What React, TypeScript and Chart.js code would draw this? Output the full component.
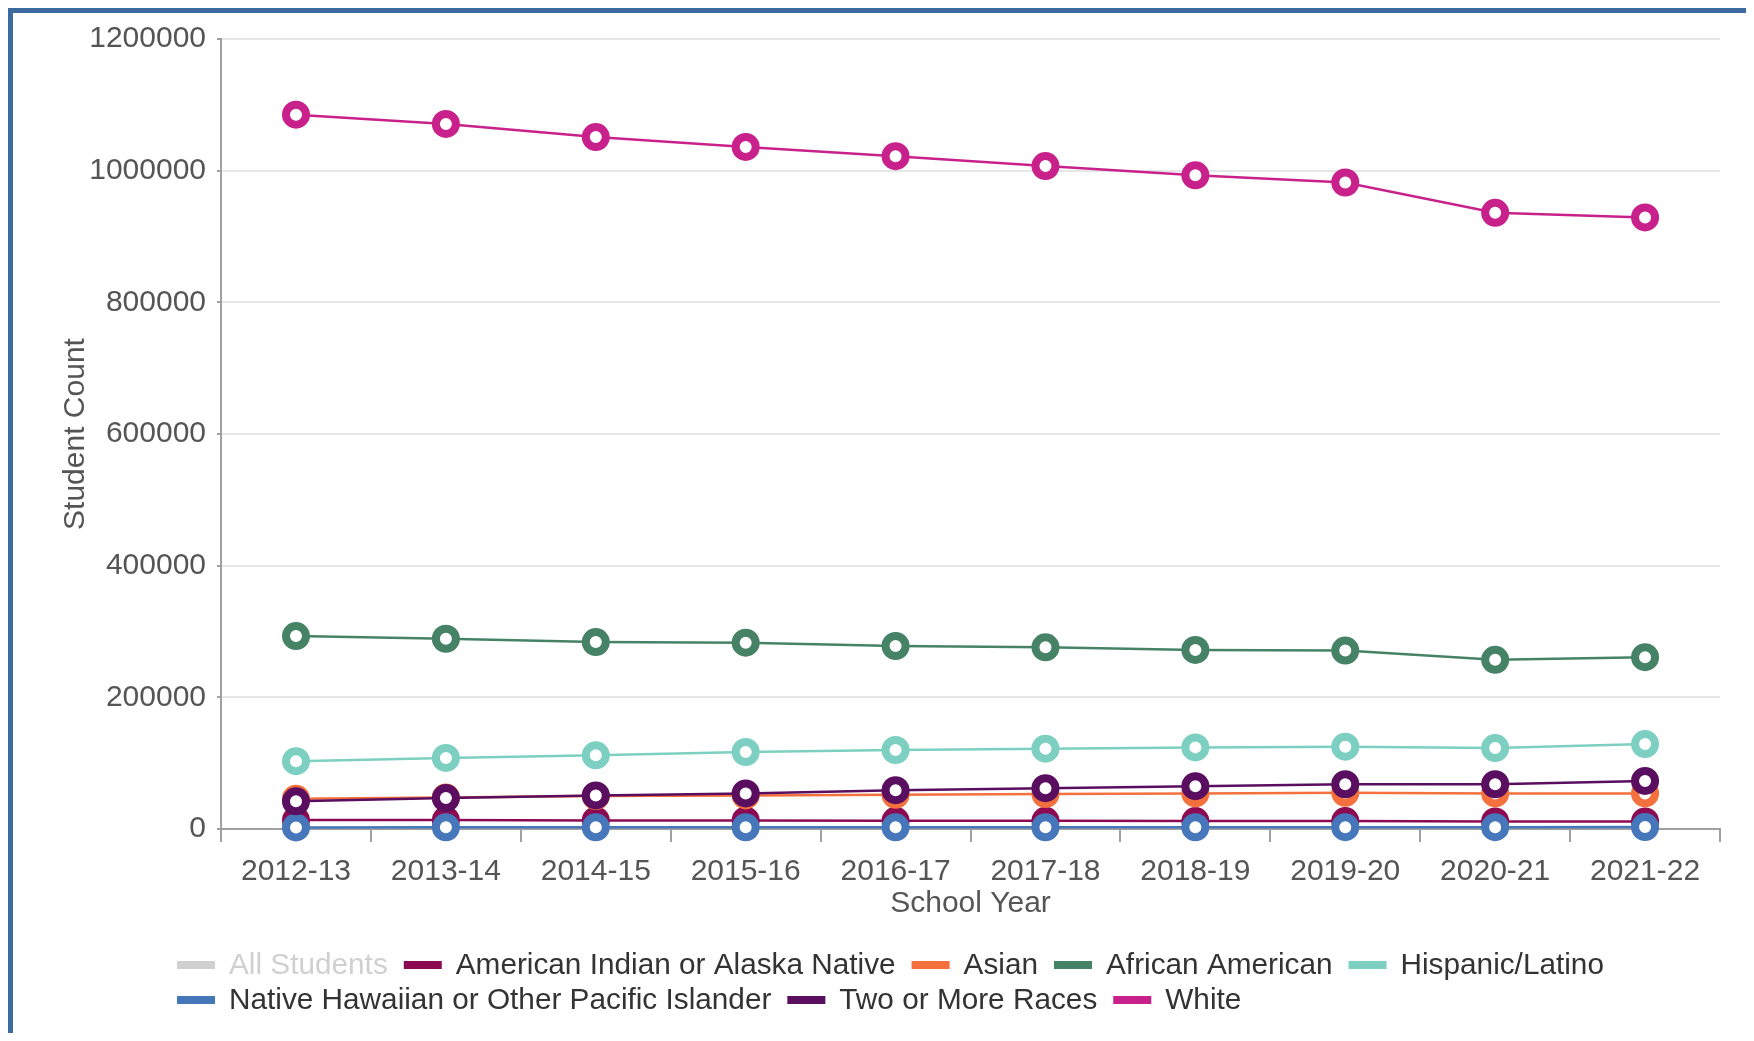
import React, { useEffect, useRef } from "react";
import { Chart, registerables } from "chart.js";

Chart.register(...registerables);

const schoolYears = ["2012-13", "2013-14", "2014-15", "2015-16", "2016-17", "2017-18", "2018-19", "2019-20", "2020-21", "2021-22"];

const allStudents = [1585000, 1582000, 1575000, 1568000, 1560000, 1552000, 1545000, 1540000, 1488000, 1489000];
const americanIndian = [13500, 13500, 13000, 13000, 12500, 12500, 12000, 12000, 11500, 11500];
const asian = [46000, 48000, 50000, 51000, 52000, 53000, 54000, 55000, 54000, 54000];
const africanAmerican = [293000, 289000, 284000, 283000, 278000, 276000, 272000, 271000, 257000, 261000];
const hispanicLatino = [103000, 108000, 112000, 117000, 120000, 122000, 124000, 125000, 123000, 129000];
const nativeHawaiian = [2400, 2500, 2500, 2600, 2600, 2700, 2700, 2800, 2800, 2900];
const twoOrMore = [42000, 47000, 51000, 54000, 59000, 62000, 65000, 68000, 68000, 73000];
const white = [1085000, 1071000, 1051000, 1036000, 1022000, 1007000, 993000, 982000, 936000, 929000];

const seriesLabels = [
  "All Students",
  "American Indian or Alaska Native",
  "Asian",
  "African American",
  "Hispanic/Latino",
  "Native Hawaiian or Other Pacific Islander",
  "Two or More Races",
  "White",
];
const seriesColors = ["#cccccc", "#8c0a52", "#f4703c", "#468366", "#7dd0c1", "#4677bb", "#5a0e60", "#c9218b"];
const seriesData = [allStudents, americanIndian, asian, africanAmerican, hispanicLatino, nativeHawaiian, twoOrMore, white];
const seriesHidden = [true, false, false, false, false, false, false, false];

const yMin = 0;
const yMax = 1200000;
const yStep = 200000;

const FAMILY = "'Liberation Sans', Arial, sans-serif";
const FONT_SIZE = 30;
const LEGEND_FONT_SIZE = 29.75;

export default function App() {
  const ref = useRef<HTMLCanvasElement | null>(null);

  useEffect(() => {
    const canvas = ref.current;
    if (!canvas) return;

    const datasets = seriesLabels.map((label, i) => ({
      label,
      data: seriesData[i],
      borderColor: seriesColors[i],
      backgroundColor: seriesColors[i],
      pointBackgroundColor: "#ffffff",
      pointBorderColor: seriesColors[i],
      pointRadius: 10,
      pointHoverRadius: 10,
      pointBorderWidth: 8,
      pointHoverBorderWidth: 8,
      borderWidth: 2.5,
      tension: 0,
      fill: false,
      clip: false,
      hidden: seriesHidden[i],
      order: seriesLabels.length - i,
    }));

    // Legend drawn below the x-axis, items left-aligned in wrapped rows
    const bottomLegend = {
      id: "bottomLegend",
      afterDraw(chart: any) {
        const ctx = chart.ctx as CanvasRenderingContext2D;
        const startX = 164;
        const firstRowY = 953;
        const rowHeight = 35;
        const boxW = 38;
        const boxH = 8;
        const boxGap = 14;
        const itemGap = 16;
        const limit = chart.width - 20;
        ctx.save();
        ctx.font = `${LEGEND_FONT_SIZE}px ${FAMILY}`;
        ctx.textBaseline = "middle";
        ctx.textAlign = "left";
        let x = startX;
        let y = firstRowY;
        chart.data.datasets.forEach((ds: any, i: number) => {
          const text = ds.label as string;
          const tw = ctx.measureText(text).width;
          const w = boxW + boxGap + tw;
          if (x > startX && x + w > limit) {
            x = startX;
            y += rowHeight;
          }
          const hidden = !chart.isDatasetVisible(i);
          ctx.fillStyle = hidden ? "#d0d0d0" : ds.borderColor;
          ctx.fillRect(x, y - boxH / 2 - 1, boxW, boxH);
          ctx.fillStyle = hidden ? "#d0d0d0" : "#333333";
          ctx.fillText(text, x + boxW + boxGap, y);
          x += w + itemGap;
        });
        ctx.restore();
      },
    };

    const chart = new Chart(canvas, {
      type: "line",
      data: { labels: schoolYears, datasets },
      plugins: [bottomLegend],
      options: {
        animation: false,
        responsive: false,
        maintainAspectRatio: false,
        layout: { padding: { top: 24, left: 60, right: 26, bottom: 127 } },
        scales: {
          x: {
            offset: true,
            grid: {
              display: true,
              offset: true,
              drawOnChartArea: false,
              drawTicks: true,
              tickLength: 13,
              color: "#a0a0a0",
              lineWidth: 2,
            },
            border: { display: true, color: "#a0a0a0", width: 2 },
            ticks: {
              color: "#555555",
              font: { family: FAMILY, size: FONT_SIZE, lineHeight: 1 },
              padding: 15,
              maxRotation: 0,
              autoSkip: false,
            },
            title: {
              display: true,
              text: "School Year",
              color: "#555555",
              font: { family: FAMILY, size: FONT_SIZE, lineHeight: 0.133 },
              padding: { top: 0, bottom: 0 },
            },
          },
          y: {
            min: yMin,
            max: yMax,
            grid: {
              color: "#e6e6e6",
              lineWidth: 2,
              tickLength: 4,
              tickColor: "#a0a0a0",
              drawTicks: true,
            },
            border: { display: true, color: "#a0a0a0", width: 2 },
            ticks: {
              stepSize: yStep,
              color: "#555555",
              font: { family: FAMILY, size: FONT_SIZE, lineHeight: 1 },
              padding: 11,
              callback: (v: any) => String(v),
            },
            title: {
              display: true,
              text: "Student Count",
              color: "#555555",
              font: { family: FAMILY, size: FONT_SIZE, lineHeight: 0.175 },
              padding: { top: 0, bottom: 0 },
            },
          },
        },
        plugins: {
          tooltip: { enabled: true },
          legend: { display: false },
        },
      },
    });

    return () => chart.destroy();
  }, []);

  return (
    <div
      style={{
        borderTop: "5px solid #3e6b9f",
        borderLeft: "5px solid #3e6b9f",
        marginRight: -8,
        background: "#ffffff",
      }}
    >
      <canvas ref={ref} width={1733} height={1020} style={{ display: "block", width: 1733, height: 1020 }} />
    </div>
  );
}
